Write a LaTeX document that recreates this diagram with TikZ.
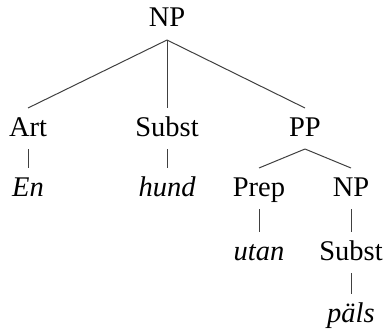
\documentclass[tikz,border=0pt]{standalone}
\usepackage{fontspec}
\setmainfont{Liberation Serif}
\begin{document}
\begin{tikzpicture}[x=1pt,y=-1pt,
  lab/.style={anchor=base,inner sep=0pt,outer xsep=0pt,outer ysep=9pt,
    text height=19pt,text depth=4pt,font=\fontsize{28.5}{30}\selectfont,text=black},
  word/.style={lab,font=\fontsize{28.5}{30}\selectfont\itshape},
  edge/.style={draw=black!75,line width=1pt}]
\useasboundingbox (0,0) rectangle (388,329);
\node[lab] (np) at (167,27) {NP};
\node[lab] (art) at (28,136) {Art};
\node[lab] (subst) at (167,136) {Subst};
\node[lab] (pp) at (305,136) {PP};
\node[word] (en) at (28,196) {En};
\node[word] (hund) at (167,196) {hund};
\node[lab] (prep) at (259,196) {Prep};
\node[lab] (np2) at (351,196) {NP};
\node[word] (utan) at (259,260) {utan};
\node[lab] (subst2) at (351,260) {Subst};
\node[word] (pals) at (351,322) {päls};
\path[edge] (np.south) -- (art.north);
\path[edge] (np.south) -- (subst.north);
\path[edge] (np.south) -- (pp.north);
\path[edge] (art.south) -- (en.north);
\path[edge] (subst.south) -- (hund.north);
\path[edge] (pp.south) -- (prep.north);
\path[edge] (pp.south) -- (np2.north);
\path[edge] (prep.south) -- (utan.north);
\path[edge] (np2.south) -- (subst2.north);
\path[edge] (subst2.south) -- (pals.north);
\end{tikzpicture}
\end{document}
